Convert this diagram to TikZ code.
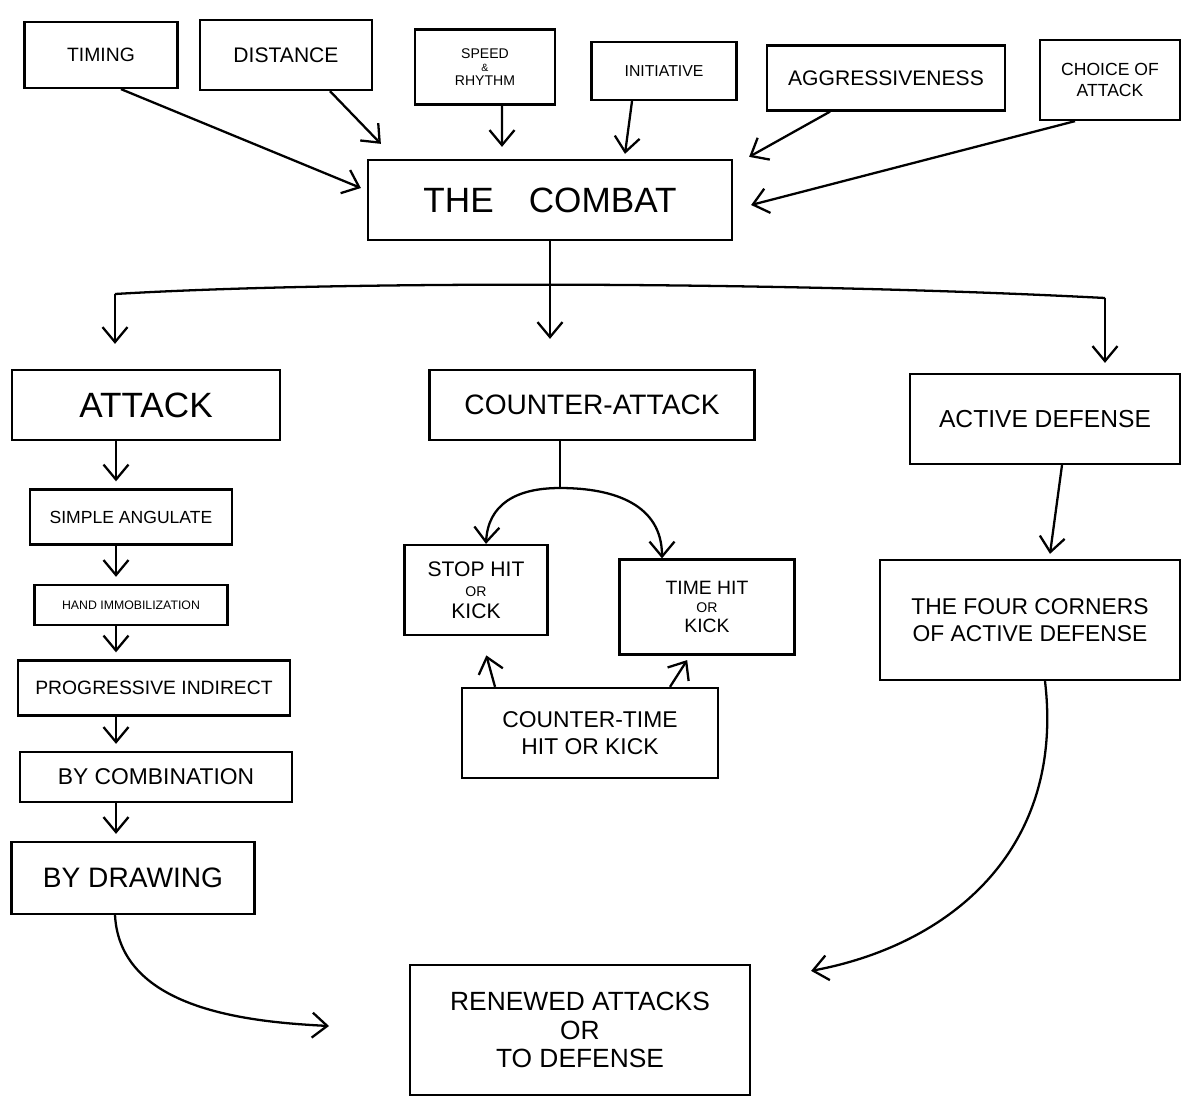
\documentclass[tikz,border=0pt]{standalone}
\usepackage{fontspec}
\setmainfont{Liberation Sans}
\usetikzlibrary{arrows.meta,positioning}
\begin{document}
\begin{tikzpicture}[x=0.02cm,y=-0.02cm,>={Straight Barb[length=3mm,width=5mm]},
box/.style={draw,line width=1.3pt,align=center,inner sep=2pt},
wire/.style={line width=1.3pt},
fs/.style={font=\fontsize{#1}{1.2\dimexpr #1pt\relax}\selectfont}]
\useasboundingbox (0,0) rectangle (1183,1106);
% top row
\node[box,fs=11,minimum width=3.06cm,minimum height=1.32cm] (timing) at (101,55) {TIMING};
\node[box,fs=12,minimum width=3.44cm,minimum height=1.4cm] (distance) at (286,55) {DISTANCE};
\node[box,fs=8,minimum width=2.8cm,minimum height=1.5cm] (speed) at (485,67) {SPEED\\[-2pt]{\fontsize{6}{6}\selectfont\&}\\[-2pt]RHYTHM};
\node[box,fs=9,minimum width=2.9cm,minimum height=1.16cm] (initiative) at (664,71) {INITIATIVE};
\node[box,fs=12,minimum width=4.76cm,minimum height=1.3cm] (aggr) at (886,78) {AGGRESSIVENESS};
\node[box,fs=10,minimum width=2.8cm,minimum height=1.6cm] (choice) at (1110,80) {CHOICE OF\\ATTACK};
\node[box,fs=20,minimum width=7.28cm,minimum height=1.6cm] (combat) at (550,200) {THE\quad COMBAT};
% second row
\node[box,fs=20,minimum width=5.36cm,minimum height=1.4cm] (attack) at (146,405) {ATTACK};
\node[box,fs=16,minimum width=6.5cm,minimum height=1.4cm] (counter) at (592,405) {COUNTER-ATTACK};
\node[box,fs=14,minimum width=5.4cm,minimum height=1.8cm] (defense) at (1045,419) {ACTIVE DEFENSE};
% attack chain
\node[box,fs=10,minimum width=4.04cm,minimum height=1.1cm] (simple) at (131,517) {SIMPLE ANGULATE};
\node[box,fs=7,minimum width=3.86cm,minimum height=0.8cm] (hand) at (131,605) {HAND IMMOBILIZATION};
\node[box,fs=11,minimum width=5.44cm,minimum height=1.1cm] (prog) at (154,688) {PROGRESSIVE INDIRECT};
\node[box,fs=13,minimum width=5.44cm,minimum height=1.0cm] (comb) at (156,777) {BY COMBINATION};
\node[box,fs=16,minimum width=4.86cm,minimum height=1.44cm] (drawing) at (133,878) {BY DRAWING};
% counter-attack
\node[box,fs=12,minimum width=2.86cm,minimum height=1.8cm] (stop) at (476,590) {STOP HIT\\[-3pt]{\fontsize{8}{8}\selectfont OR}\\[-2pt]KICK};
\node[box,fs=11,minimum width=3.5cm,minimum height=1.9cm] (time) at (707,607) {TIME HIT\\[-3pt]{\fontsize{8}{8}\selectfont OR}\\[-2pt]KICK};
\node[box,fs=13,minimum width=5.12cm,minimum height=1.8cm] (ctime) at (590,733) {COUNTER-TIME\\HIT OR KICK};
% active defense
\node[box,fs=13,minimum width=6cm,minimum height=2.4cm] (fourc) at (1030,620) {THE FOUR CORNERS\\OF ACTIVE DEFENSE};
\node[box,fs=15,minimum width=6.8cm,minimum height=2.6cm] (renewed) at (580,1030) {RENEWED ATTACKS\\[-2pt]OR\\[-2pt]TO DEFENSE};
% into the combat
\draw[wire,->] ([xshift=0.4cm]timing.south) -- ([xshift=-0.12cm,yshift=0.24cm]combat.west);
\draw[wire,->] ([xshift=0.88cm]distance.south) -- ([xshift=0.28cm,yshift=0.3cm]combat.north west);
\draw[wire,->] ([xshift=0.34cm]speed.south) -- ([xshift=-0.96cm,yshift=0.24cm]combat.north);
\draw[wire,->] ([xshift=-0.64cm]initiative.south) -- ([xshift=1.5cm,yshift=0.1cm]combat.north);
\draw[wire,->] ([xshift=-1.12cm]aggr.south) -- ([xshift=0.32cm,yshift=0.04cm]combat.north east);
\draw[wire,->] ([xshift=-0.7cm]choice.south) -- ([xshift=0.36cm,yshift=-0.1cm]combat.east);
% branching
\coordinate (hub) at (550,288);
\coordinate (lft) at (115,294);
\coordinate (rgt) at (1105,298);
\draw[wire] (combat.south) -- (hub);
\draw[wire] (lft) .. controls (350,280) and (800,282) .. (rgt);
\draw[wire,->,shorten >=5mm] (lft) -- (lft |- attack.north);
\draw[wire,->,shorten >=6mm] (hub) -- (hub |- counter.north);
\draw[wire,->,shorten >=2mm] (rgt) -- (rgt |- defense.north);
% attack chain
\coordinate (col) at (116,0);
\foreach \a/\b in {attack/simple,simple/hand,hand/prog,prog/comb,comb/drawing}
  \draw[wire,->,shorten >=4pt] (\a.south -| col) -- (\b.north -| col);
% counter-attack
\coordinate (fork) at (560,488);
\draw[wire] (fork |- counter.south) -- (fork);
\draw[wire,->] (fork) .. controls (515,488) and (488,505) .. ([xshift=0.2cm]stop.north);
\draw[wire,->] (fork) .. controls (615,488) and (662,505) .. ([xshift=-0.9cm]time.north);
\draw[wire,->,shorten >=0.4cm] ([xshift=-1.9cm]ctime.north) -- ([xshift=0.1cm]stop.south);
\draw[wire,->,shorten >=3pt] ([xshift=1.6cm]ctime.north) -- ([xshift=-0.34cm]time.south);
% active defense
\draw[wire,->] ([xshift=0.34cm]defense.south) -- ([xshift=0.4cm,yshift=0.1cm]fourc.north);
% back to renewed attacks
\draw[wire,->,shorten >=1.6cm] ([xshift=-0.36cm]drawing.south) .. controls (120,1010) and (250,1022) .. (renewed.west);
\draw[wire,->] ([xshift=0.3cm]fourc.south) .. controls (1065,850) and (950,945) .. ([xshift=1.2cm,yshift=-0.14cm]renewed.north east);
\end{tikzpicture}
\end{document}
